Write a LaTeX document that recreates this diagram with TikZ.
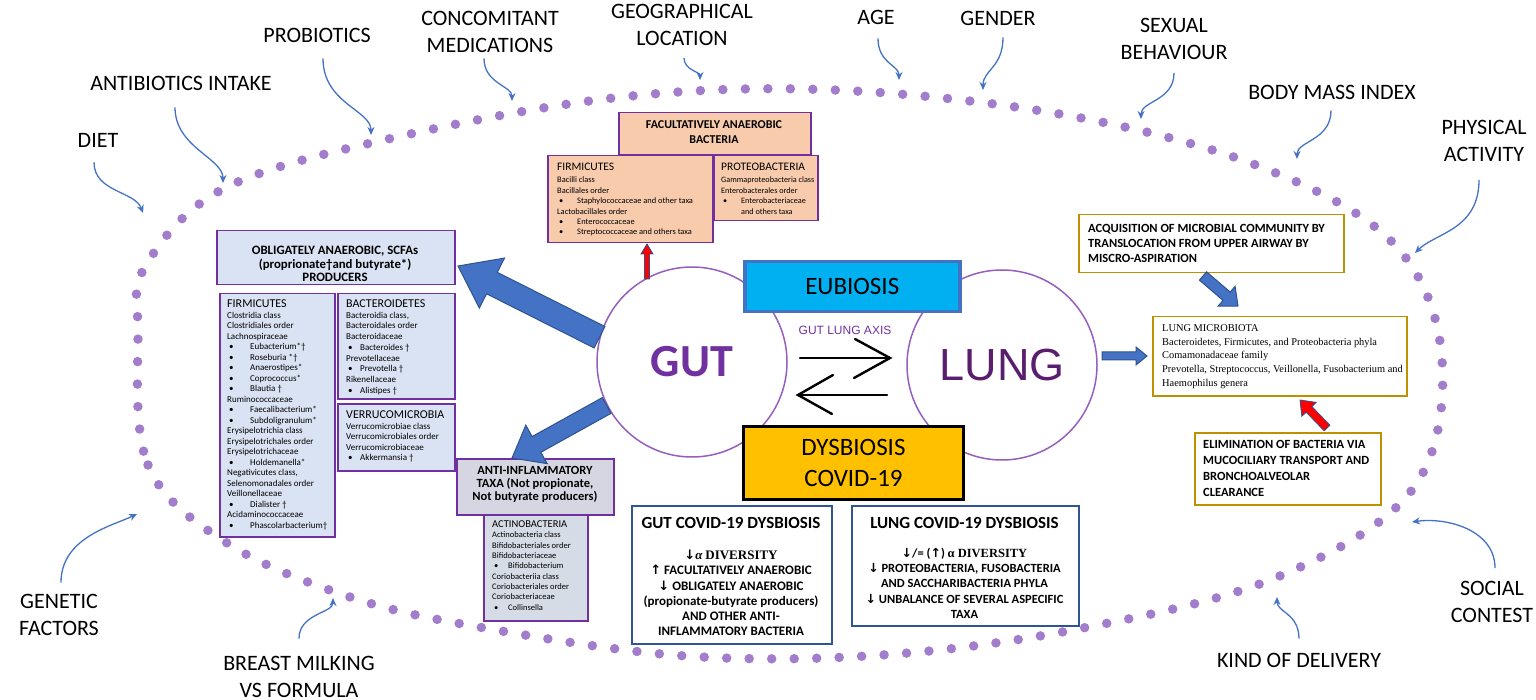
\documentclass[tikz,border=0pt]{standalone}
\usepackage{fontspec}
\setmainfont{Carlito}
\newfontfamily\timesf{Liberation Serif}
\newfontfamily\symf{DejaVu Sans}
\newfontfamily\arialf{Liberation Sans}
\usetikzlibrary{calc,arrows.meta}
\definecolor{dotpurple}{RGB}{162,125,204}
\definecolor{circpurple}{RGB}{150,95,190}
\definecolor{arrblue}{RGB}{68,114,196}
\definecolor{blkblue}{RGB}{68,114,196}
\definecolor{blkedge}{RGB}{47,82,143}
\definecolor{boxpurple}{RGB}{112,48,160}
\definecolor{oblfill}{RGB}{218,227,243}
\definecolor{peach}{RGB}{248,203,173}
\definecolor{antfill}{RGB}{214,214,226}
\definecolor{actfill}{RGB}{214,220,229}
\definecolor{goldb}{RGB}{191,144,0}
\definecolor{covblue}{RGB}{47,85,151}
\definecolor{eubfill}{RGB}{0,176,240}
\definecolor{eubord}{RGB}{68,114,196}
\definecolor{dysfill}{RGB}{255,192,0}
\definecolor{gutpurple}{RGB}{112,48,160}
\definecolor{lungpurple}{RGB}{90,30,110}
\newcommand{\fs}[2]{\fontsize{#1}{#2}\selectfont}
\newcommand{\mybul}[2][20pt]{\makebox[#1][l]{\hspace{2pt}\textbullet}#2}
\newcommand{\dn}{{\symf\char"2193}}
\newcommand{\up}{{\symf\char"2191}}
\newcommand{\myblockarrow}[6]{%
  \coordinate (ba-h) at ($(#3)!#6!(#2)$);
  \filldraw[#1] ($(#2)!#4!90:(#3)$) -- ($(ba-h)!#4!90:(#3)$) -- ($(ba-h)!#5!90:(#3)$) -- (#3)
     -- ($(ba-h)!#5!-90:(#3)$) -- ($(ba-h)!#4!-90:(#3)$) -- ($(#2)!#4!-90:(#3)$) -- cycle;}
\tikzset{
  lbl/.style={font=\fs{22}{27}, align=center, inner sep=0pt},
  inarr/.style={draw=arrblue, line width=1.3pt, -{Stealth[length=8pt,width=7pt]}},
  pbox/.style={draw=boxpurple, line width=1.5pt, inner sep=0pt, anchor=north west},
  gbox/.style={draw=goldb, line width=1.5pt, fill=white, inner sep=0pt, anchor=north west},
  cbox/.style={draw=covblue, line width=1.8pt, fill=white, inner sep=0pt, anchor=north west},
  txt/.style={anchor=north west, inner sep=0pt, align=left},
  axarr/.style={draw=black, line width=2.4pt, line cap=round, line join=miter},
  blk/.style={fill=blkblue, draw=blkedge, line width=1pt},
  redblk/.style={fill=red, draw=blkedge, line width=0.8pt}
}
\begin{document}
\begin{tikzpicture}[x=1pt,y=-1pt]
\useasboundingbox (0,0) rectangle (1536,700);

% dotted oval
\draw[dotpurple, line width=9.5pt, line cap=round, dash pattern=on 0pt off 22.5pt]
  plot[smooth cycle, tension=0.6] coordinates {(138,330) (148,465) (227,543) (353,598) (490,629)
  (686,656) (882,655) (1078,629) (1275,578) (1412,490) (1442,360) (1395,245) (1261,167)
  (1065,115) (834,90) (622,97) (397,137) (225,188) (146,265)};

% influencing factors
\node[lbl] (diet) at (98,140) {DIET};
\node[lbl] (antib) at (181,83) {ANTIBIOTICS INTAKE};
\node[lbl] (probio) at (317,35) {PROBIOTICS};
\node[lbl] (concom) at (490,31.5) {CONCOMITANT\\MEDICATIONS};
\node[lbl] (geog) at (682,25) {GEOGRAPHICAL\\LOCATION};
\node[lbl] (age) at (876,17) {AGE};
\node[lbl] (gender) at (998,18) {GENDER};
\node[lbl] (sexual) at (1174,39) {SEXUAL\\BEHAVIOUR};
\node[lbl] (bmi) at (1332,92) {BODY MASS INDEX};
\node[lbl] (phys) at (1484,141) {PHYSICAL\\ACTIVITY};
\node[lbl] (genetic) at (59,614.5) {GENETIC\\FACTORS};
\node[lbl] (breast) at (299,676.5) {BREAST MILKING\\VS FORMULA};
\node[lbl] (kind) at (1299,660) {KIND OF DELIVERY};
\node[lbl] (social) at (1492,602) {SOCIAL\\CONTEST};

\coordinate (t-diet) at (143,213);
\coordinate (t-antib) at (223,183);
\coordinate (t-probio) at (371,135);
\coordinate (t-concom) at (512,101);
\coordinate (t-geog) at (700,80);
\coordinate (t-age) at (899,80);
\coordinate (t-gender) at (983,90);
\coordinate (t-sexual) at (1141,119);
\coordinate (t-bmi) at (1297,159);
\coordinate (t-phys) at (1415,253);
\coordinate (t-genetic) at (137,514);
\coordinate (t-breast) at (333,598);
\coordinate (t-kind) at (1277,597);
\coordinate (t-social) at (1412,522);

\draw[inarr] ($(diet.south)+(-4,15)$) .. controls +(0,30) and +(-8,-22) .. (t-diet);
\draw[inarr] ($(antib.south)+(-6,17)$) .. controls +(0,40) and +(0,-25) .. (t-antib);
\draw[inarr] ($(probio.south)+(6,16)$) .. controls +(0,45) and +(0,-25) .. (t-probio);
\draw[inarr] ($(concom.south)+(-6,6)$) .. controls +(0,25) and +(0,-15) .. (t-concom);
\draw[inarr] ($(geog.south)+(2,12)$) .. controls +(0,12) and +(0,-8) .. (t-geog);
\draw[inarr] ($(age.south)+(2,14)$) .. controls +(0,25) and +(0,-15) .. (t-age);
\draw[inarr] ($(gender.south)+(5,12)$) .. controls +(0,30) and +(0,-20) .. (t-gender);
\draw[inarr] ($(sexual.south)+(0,13)$) .. controls +(0,28) and +(0,-18) .. (t-sexual);
\draw[inarr] ($(bmi.south)+(-1,11)$) .. controls +(0,30) and +(0,-18) .. (t-bmi);
\draw[inarr] ($(phys.south)+(-5,18)$) .. controls +(0,50) and +(20,-20) .. (t-phys);
\draw[inarr] ($(genetic.north)+(2,-11)$) .. controls +(0,-45) and +(-25,12) .. (t-genetic);
\draw[inarr] ($(breast.north)+(0,-17)$) .. controls +(0,-25) and +(0,15) .. (t-breast);
\draw[inarr] ($(kind.north)+(0,-14)$) .. controls +(0,-25) and +(0,15) .. (t-kind);
\draw[inarr] ($(social.north)+(3,-13)$) .. controls +(0,-38) and +(35,-5) .. (t-social);

% gut and lung circles
\node[circle, draw=circpurple, line width=1.5pt, minimum size=190pt, inner sep=0pt,
      font=\bfseries\fs{46}{50}, text=gutpurple] (gut) at (692,362) {GUT};
\node[circle, draw=circpurple, line width=1.5pt, minimum size=190pt, inner sep=0pt,
      font=\arialf\fs{45}{50}, text=lungpurple] (lung) at (1002,365) {LUNG};

\node[draw=eubord, line width=3.5pt, fill=eubfill, minimum width=215pt, minimum height=50pt,
      anchor=north west, inner sep=0pt, font=\fs{25}{30}] (eub) at (743,260) {EUBIOSIS};
\node[draw=black, line width=3pt, fill=dysfill, minimum width=220pt, minimum height=73pt,
      anchor=north west, inner sep=0pt, align=center, font=\fs{25}{31}] (dys) at (742,425) {DYSBIOSIS\\COVID-19};

% gut lung axis
\node[font=\arialf\fs{12}{14}, text=gutpurple, inner sep=0pt] (axis) at (845,330) {GUT LUNG AXIS};
\coordinate (ra1) at (800,358); \coordinate (ra2) at (890,358);
\coordinate (rh1) at (855,339); \coordinate (rh2) at (854,378);
\coordinate (la1) at (887,395); \coordinate (la2) at (798,395);
\coordinate (lh1) at (833,375); \coordinate (lh2) at (832,414);
\draw[axarr] (ra1) -- (ra2);
\draw[axarr] (rh1) -- (ra2) -- (rh2);
\draw[axarr] (la1) -- (la2);
\draw[axarr] (lh1) -- (la2) -- (lh2);

% facultatively anaerobic
\node[pbox, fill=peach, minimum width=192pt, minimum height=42pt] (facH) at (618,112) {};
\node[font=\bfseries\fs{12}{15}, align=center, inner sep=0pt] at (714,132.5) {FACULTATIVELY ANAEROBIC\\BACTERIA};
\node[pbox, fill=peach, minimum width=165pt, minimum height=87pt] (facF) at (547,155) {};
\node[txt, font=\fs{8.4}{10.4}] at (557,163.3) {{\fs{11.5}{10.4}FIRMICUTES}\\[1.5pt]
Bacilli class\\Bacillales order\\\mybul[20pt]{Staphylococcaceae and other taxa}\\Lactobacillales order\\
\mybul[20pt]{Enterococcaceae}\\\mybul[20pt]{Streptococcaceae and others taxa}};
\node[pbox, fill=peach, minimum width=104pt, minimum height=65pt] (facP) at (713,155) {};
\node[txt, font=\fs{8.2}{10.4}] at (721,163.3) {{\fs{11.5}{10.4}PROTEOBACTERIA}\\[1.5pt]
Gammaproteobacteria class\\Enterobacterales order\\\mybul[20pt]{Enterobacteriaceae}\\\hspace*{20pt}and others taxa};

% obligately anaerobic
\node[pbox, fill=oblfill, minimum width=238pt, minimum height=54pt] (oblH) at (216,230) {};
\node[font=\bfseries\fs{12.8}{13.5}, align=center, inner sep=0pt] at (335,264) {OBLIGATELY ANAEROBIC, SCFAs\\(proprionate†and butyrate*)\\PRODUCERS};
\node[pbox, fill=oblfill, minimum width=115pt, minimum height=243pt] (oblF) at (219,293) {};
\node[txt, font=\fs{9}{10.5}] at (227,299.5) {{\fs{12}{10.5}FIRMICUTES}\\[0.5pt]
Clostridia class\\Clostridiales order\\Lachnospiraceae\\
\mybul[23pt]{Eubacterium*†}\\\mybul[23pt]{Roseburia *†}\\\mybul[23pt]{Anaerostipes*}\\
\mybul[23pt]{Coprococcus*}\\\mybul[23pt]{Blautia †}\\Ruminococcaceae\\
\mybul[23pt]{Faecalibacterium*}\\\mybul[23pt]{Subdoligranulum*}\\
Erysipelotrichia class\\Erysipelotrichales order\\Erysipelotrichaceae\\
\mybul[23pt]{Holdemanella*}\\Negativicutes class,\\Selenomonadales order\\Veillonellaceae\\
\mybul[23pt]{Dialister †}\\Acidaminococcaceae\\\mybul[23pt]{Phascolarbacterium†}};
\node[pbox, fill=oblfill, minimum width=117pt, minimum height=105pt] (oblB) at (337,293) {};
\node[txt, font=\fs{9}{10.75}] at (346,299.3) {{\fs{12}{10.75}BACTEROIDETES}\\
Bacteroidia class,\\Bacteroidales order\\Bacteroidaceae\\\mybul[14pt]{Bacteroides †}\\
Prevotellaceae\\\mybul[14pt]{Prevotella †}\\Rikenellaceae\\\mybul[14pt]{Alistipes †}};
\node[pbox, fill=oblfill, minimum width=117pt, minimum height=67pt] (oblV) at (337,403) {};
\node[txt, font=\fs{9}{10.5}] at (346,411) {{\fs{12}{10.5}VERRUCOMICROBIA}\\
Verrucomicrobiae class\\Verrucomicrobiales order\\Verrucomicrobiaceae\\\mybul[14pt]{Akkermansia †}};

% anti-inflammatory
\node[pbox, fill=antfill, minimum width=157pt, minimum height=56pt] (antH) at (456,458) {};
\node[font=\bfseries\fs{12.5}{13}, align=center, inner sep=0pt] at (535,484) {ANTI-INFLAMMATORY\\TAXA (Not propionate,\\Not butyrate producers)};
\node[pbox, fill=actfill, minimum width=104pt, minimum height=106pt] (actB) at (483,514) {};
\node[txt, font=\fs{8.5}{10.3}] at (492,520.6) {{\fs{10.5}{10.3}ACTINOBACTERIA}\\
Actinobacteria class\\Bifidobacteriales order\\Bifidobacteriaceae\\\mybul[16pt]{Bifidobacterium}\\
Coriobacteriia class\\Coriobacteriales order\\Coriobacteriaceae\\\mybul[16pt]{Collinsella}};

% lung side boxes
\node[gbox, minimum width=265pt, minimum height=58pt] (acq) at (1078,214) {};
\node[txt, font=\bfseries\fs{12.5}{15}] at (1088,224) {ACQUISITION OF MICROBIAL COMMUNITY BY\\TRANSLOCATION FROM UPPER AIRWAY BY\\MISCRO-ASPIRATION};
\node[gbox, minimum width=254pt, minimum height=79pt] (lmic) at (1152,316) {};
\node[txt, font=\timesf\fs{10.4}{13.7}] at (1162,324.5) {LUNG MICROBIOTA\\Bacteroidetes, Firmicutes, and Proteobacteria phyla\\Comamonadaceae family\\Prevotella, Streptococcus, Veillonella, Fusobacterium and\\Haemophilus genera};
\node[gbox, minimum width=186pt, minimum height=72pt] (elim) at (1194,432) {};
\node[txt, font=\bfseries\fs{12.5}{16}] at (1203,440) {ELIMINATION OF BACTERIA VIA\\MUCOCILIARY TRANSPORT AND\\BRONCHOALVEOLAR\\CLEARANCE};

% covid dysbiosis boxes
\node[cbox, minimum width=200pt, minimum height=138pt] (gcov) at (631,505) {};
\node[font=\bfseries\fs{17}{18}, inner sep=0pt] at (731,523) {GUT COVID-19 DYSBIOSIS};
\node[anchor=north, inner sep=0pt, align=center, font=\bfseries\fs{13}{15.2}] at (731,550) {%
\dn{\timesf\bfseries\itshape α} {\timesf\bfseries DIVERSITY}\\
\up\ FACULTATIVELY ANAEROBIC\\\dn\ OBLIGATELY ANAEROBIC\\(propionate-butyrate producers)\\AND OTHER ANTI-\\INFLAMMATORY BACTERIA};
\node[cbox, minimum width=227pt, minimum height=120pt] (lcov) at (851,505) {};
\node[font=\bfseries\fs{17}{18}, inner sep=0pt] at (964.5,523) {LUNG COVID-19 DYSBIOSIS};
\node[anchor=north, inner sep=0pt, align=center, font=\bfseries\fs{12.5}{15.2}] at (964.5,548) {%
\dn/= (\up) {\timesf\bfseries α DIVERSITY}\\
\dn\ PROTEOBACTERIA, FUSOBACTERIA\\AND SACCHARIBACTERIA PHYLA\\\dn\ UNBALANCE OF SEVERAL ASPECIFIC\\TAXA};

% block arrows
\coordinate (oblTip) at (458,266);
\coordinate (antTip) at (512,458);
\myblockarrow{blk}{gut.165}{oblTip}{12pt}{28pt}{38pt}
\myblockarrow{blk}{gut.207}{antTip}{9pt}{22pt}{28pt}
\coordinate (lungR) at (1102,356);
\coordinate (lmicTip) at (1147,356);
\myblockarrow{blk}{lungR}{lmicTip}{4pt}{9pt}{11pt}
\coordinate (acqTail) at (1203,276);
\coordinate (acqTip) at (1238,306);
\myblockarrow{blk}{acqTail}{acqTip}{5.5pt}{13pt}{15pt}
\coordinate (gutTop) at (647,279);
\coordinate (facTip) at (647,244);
\myblockarrow{redblk}{gutTop}{facTip}{2.5pt}{6pt}{10pt}
\coordinate (elimTail) at (1327,428);
\coordinate (elimTip) at (1300,400);
\myblockarrow{redblk}{elimTail}{elimTip}{4pt}{10pt}{13pt}
\end{tikzpicture}
\end{document}
